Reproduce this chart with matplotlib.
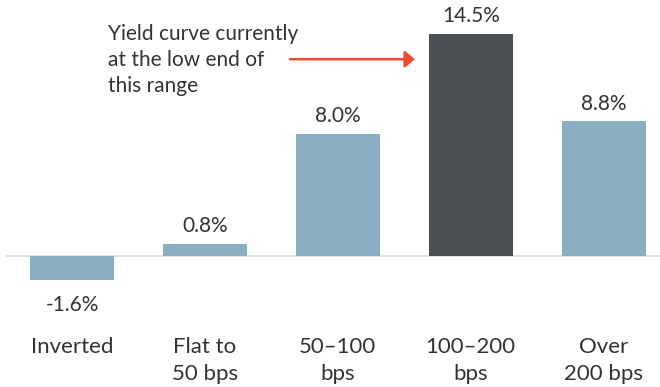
import matplotlib
matplotlib.use("Agg")
import matplotlib.pyplot as plt
from matplotlib import transforms

plt.rcParams['font.family'] = ['Lato', 'DejaVu Sans']

# yield-curve regimes and average return in each
categories = ['Inverted', 'Flat to\n50 bps', '50\u2013100\nbps', '100\u2013200\nbps', 'Over\n200 bps']
returns = [-1.6, 0.8, 8.0, 14.5, 8.8]
highlight = 3
note = 'Yield curve currently\nat the low end of\nthis range'

blue = '#8aafc0'
dark = '#4b4f54'
txt = '#333333'
red = '#f04a30'

fig = plt.figure(figsize=(6.6, 3.87), dpi=100)
ax = fig.add_axes([0, 0, 1, 1])
ax.set_xlim(-0.542, 4.424)
ax.set_ylim(-8.56, 16.73)
ax.axis('off')

x = list(range(len(categories)))
colors = [dark if i == highlight else blue for i in x]
bars = ax.bar(x, returns, width=0.63, color=colors, zorder=2)
ax.axhline(0, xmin=0.011, xmax=1, color='#d9d9d9', lw=1.2, zorder=1)

# value labels
for xi, v in zip(x, returns):
    if v >= 0:
        ax.annotate(f'{v:.1f}%', (xi, v), xytext=(0, 8.4), textcoords='offset points',
                    ha='center', va='baseline', fontsize=15, color=txt)
    else:
        ax.annotate(f'{v:.1f}%', (xi, v), xytext=(0, -22.3), textcoords='offset points',
                    ha='center', va='baseline', fontsize=15, color=txt)

# category labels below the chart, one line at a time
trans = transforms.blended_transform_factory(ax.transData, ax.transAxes)
for xi, lab in zip(x, categories):
    for j, line in enumerate(lab.split('\n')):
        ypx = 353 + j * 27
        ax.text(xi, 1 - ypx / 387, line, transform=trans, ha='center', va='baseline',
                fontsize=16, color=txt)

# annotation with arrow to the highlighted bar
for j, line in enumerate(note.split('\n')):
    ypx = 40 + j * 26
    ax.text(0.164, 1 - ypx / 387, line, transform=ax.transAxes, ha='left', va='baseline',
            fontsize=15, color=txt)
ax.annotate('', xy=(highlight - 0.42, 12.86), xytext=(highlight - 1.36, 12.86),
            arrowprops=dict(arrowstyle='-|>,head_length=0.6,head_width=0.5',
                            color=red, lw=1.8, mutation_scale=10,
                            shrinkA=0, shrinkB=0))

fig.savefig('out.png', dpi=100)
